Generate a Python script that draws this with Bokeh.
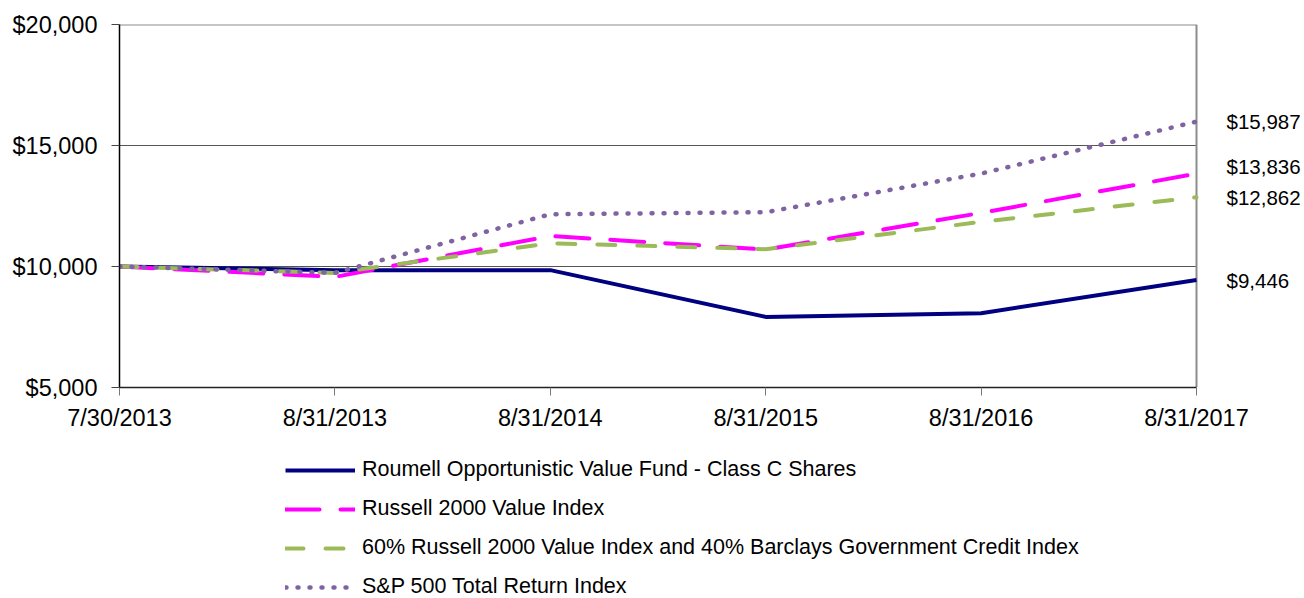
from bokeh.plotting import figure
from bokeh.layouts import column
from bokeh.models import (Range1d, FixedTicker, NumeralTickFormatter, Legend, LegendItem,
                          Label, Span)
from bokeh.embed import file_html
from bokeh.resources import INLINE

dates = ["7/30/2013", "8/31/2013", "8/31/2014", "8/31/2015", "8/31/2016", "8/31/2017"]
fund = [10000, 9850, 9850, 7917, 8070, 9446]
russell = [10000, 9570, 11260, 10700, 12215, 13836]
blend = [10000, 9735, 10963, 10715, 11843, 12862]
sp500 = [10000, 9735, 12160, 12244, 13840, 15987]
y_ticks = [5000, 10000, 15000, 20000]

names = ["Roumell Opportunistic Value Fund - Class C Shares",
         "Russell 2000 Value Index",
         "60% Russell 2000 Value Index and 40% Barclays Government Credit Index",
         "S&P 500 Total Return Index"]
end_labels = ["$15,987", "$13,836", "$12,862", "$9,446"]

FONT = "Liberation Sans"
x = list(range(len(dates)))
last = x[-1]

W = 1304
LEFT, TOP, PLOT_R, PLOT_B = 119, 24, 1196, 387
H1 = 440
H2 = 598 - H1
# frame extends to the right edge so the end labels are not clipped
x_end = last * (W - LEFT) / (PLOT_R - LEFT)

styles = [dict(line_color="#000080", line_width=4),
          dict(line_color="#FF00FF", line_width=4, line_dash="34 21", line_cap="round"),
          dict(line_color="#9BBB59", line_width=4, line_dash="18 22", line_cap="round"),
          dict(line_color="#8064A2", line_width=4.5, line_dash="1 11", line_cap="round")]
series_list = [fund, russell, blend, sp500]

p = figure(width=W, height=H1, output_backend="svg", toolbar_location=None,
           x_range=Range1d(0, x_end), y_range=Range1d(y_ticks[0], y_ticks[-1]),
           min_border_left=LEFT, min_border_right=0, min_border_top=TOP,
           min_border_bottom=H1 - PLOT_B)
p.background_fill_color = "white"
p.border_fill_color = "white"
p.outline_line_color = None

# grid lines and plot-area border, limited to the data's x extent
inner = y_ticks[1:-1]
p.segment(x0=[x[0]] * len(inner), x1=[last] * len(inner), y0=inner, y1=inner,
          line_color="#555555", line_width=1, level="underlay")
p.segment(x0=[x[0]], x1=[last], y0=[y_ticks[-1]], y1=[y_ticks[-1]],
          line_color="#8c8c8c", line_width=2, level="underlay")
p.add_layout(Span(location=last, dimension="height", line_color="#8c8c8c", line_width=2,
                  level="underlay"))

for series, st in zip(series_list, styles):
    p.line(x, series, **st)

# axes
p.xaxis.ticker = FixedTicker(ticks=x)
p.xaxis.bounds = (0, last)
p.xaxis.major_label_overrides = {i: d for i, d in enumerate(dates)}
p.xaxis.major_label_text_font = FONT
p.xaxis.major_label_text_font_size = "23.5px"
p.xaxis.major_label_text_color = "black"
p.xaxis.major_label_standoff = 9
p.xaxis.major_tick_out = 8
p.xaxis.major_tick_in = 0
p.xaxis.minor_tick_line_color = None
p.xaxis.axis_line_color = "#222222"
p.xaxis.axis_line_width = 1.5
p.xaxis.major_tick_line_color = "#777777"

p.yaxis.ticker = FixedTicker(ticks=y_ticks)
p.yaxis.formatter = NumeralTickFormatter(format="$0,0")
p.yaxis.major_label_text_font = FONT
p.yaxis.major_label_text_font_size = "23.5px"
p.yaxis.major_label_text_color = "black"
p.yaxis.major_label_standoff = 14
p.yaxis.major_tick_out = 8
p.yaxis.major_tick_in = 0
p.yaxis.minor_tick_line_color = None
p.yaxis.axis_line_color = "black"
p.yaxis.axis_line_width = 1.5
p.yaxis.major_tick_line_color = "#444444"

p.xgrid.grid_line_color = None
p.ygrid.grid_line_color = None

# end value labels
end_vals = [sp500[-1], russell[-1], blend[-1], fund[-1]]
offsets = [0, 7, 0, -1]
for txt, v, off in zip(end_labels, end_vals, offsets):
    p.add_layout(Label(x=last, y=v, text=txt, x_offset=30, y_offset=off,
                       text_font=FONT, text_font_size="20.5px", text_color="black",
                       text_baseline="middle", text_align="left"))

# legend panel (its lines hold the same data, outside its visible range)
p2 = figure(width=W, height=H2, output_backend="svg", toolbar_location=None,
            x_range=Range1d(0, 1), y_range=Range1d(0, 1),
            x_axis_type=None, y_axis_type=None, min_border=0)
p2.outline_line_color = None
p2.xgrid.grid_line_color = None
p2.ygrid.grid_line_color = None
leg_r = [p2.line(x, series, **st) for series, st in zip(series_list, styles)]
legend = Legend(items=[LegendItem(label=n, renderers=[r]) for n, r in zip(names, leg_r)],
                location=(166, -1), orientation="vertical",
                glyph_width=70, glyph_height=22, label_height=22, spacing=14,
                label_standoff=7, padding=0, margin=0,
                label_text_font=FONT, label_text_font_size="21.5px", label_text_color="black",
                border_line_color=None, background_fill_alpha=0)
p2.add_layout(legend, "center")

layout = column(p, p2, spacing=0)
open("out.html", "w").write(file_html(layout, INLINE))
